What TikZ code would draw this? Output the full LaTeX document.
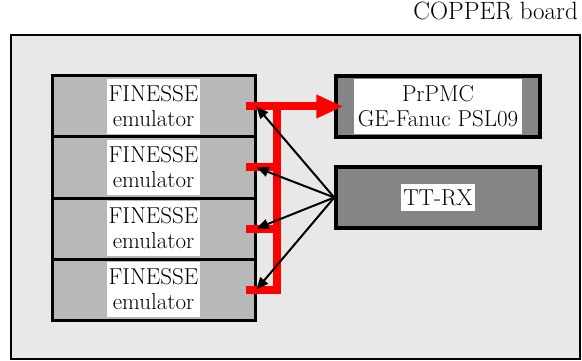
\documentclass[tikz,border=0pt]{standalone}
\usetikzlibrary{arrows.meta}
\begin{document}
\begin{tikzpicture}[
  x=1pt, y=-1pt,
  txt/.style={font=\fontsize{23}{25}\selectfont},
  cubox/.style={draw, line width=2pt, fill=black!9, minimum width=569pt, minimum height=324pt, inner sep=0pt},
  finbox/.style={draw, line width=3pt, fill=black!28, minimum width=203pt, minimum height=61pt, inner sep=0pt},
  cardbox/.style={draw, line width=3.5pt, fill=black!48, minimum width=204pt, minimum height=61pt, inner sep=0pt},
  textbg/.style={txt, fill=white, align=center, inner xsep=2pt, inner ysep=5.7pt},
  bus/.style={red, line width=8pt},
  link/.style={-{Triangle[length=12pt,width=10pt]}, line width=2pt}
]
\useasboundingbox (0,0) rectangle (582,361);
\node[cubox] (copper) at (295.5,197) {};
\node[font=\fontsize{25}{28}\selectfont, anchor=base east, inner sep=0pt] (coppertxt) at ([shift={(-3,-14)}]copper.north east) {COPPER board};
\foreach \i in {1,...,4}
  \node[finbox, label={[name=fintxt\i, textbg, inner ysep=6.6pt]center:FINESSE\\emulator}] (fin\i) at (153.5,45.5+61*\i) {};
\node[cardbox] (prpmc) at (438,106.5) {};
\node[textbg, inner xsep=4pt, inner ysep=7.1pt] (prpmctxt) at (prpmc) {PrPMC\\GE-Fanuc PSL09};
\node[cardbox] (ttrx) at (438,197.5) {};
\node[textbg] (ttrxtxt) at (ttrx) {TT-RX};
\coordinate (bustop) at ([xshift=20pt]fin1.east);
\coordinate (busbot) at ([xshift=20pt]fin4.east);
\foreach \i in {1,...,4}
  \draw[bus] ([xshift=-11pt]fin\i.east) -- ([xshift=20pt]fin\i.east);
\draw[bus, line cap=rect] (bustop) -- (busbot);
\draw[bus, -{Triangle[length=27pt,width=22pt]}] (bustop) -- ([xshift=9pt]prpmc.west);
\foreach \i in {1,...,4}
  \draw[link] (ttrx.west) -- (fin\i.east);
\end{tikzpicture}
\end{document}
